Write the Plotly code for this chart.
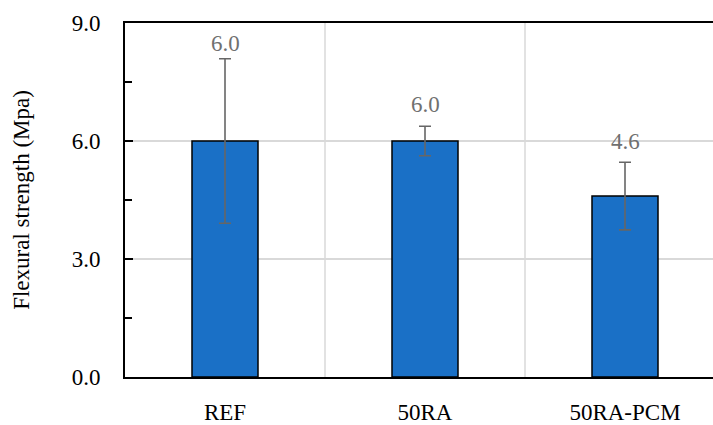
import plotly.graph_objects as go

categories = ["REF", "50RA", "50RA-PCM"]
strength = [6.0, 6.0, 4.6]
std_dev = [2.09, 0.375, 0.86]
y_tickvals = [0, 3, 6, 9]
y_ticktext = ["0.0", "3.0", "6.0", "9.0"]

FONT = "Liberation Serif"
BAR_COLOR = "#1a70c6"

fig = go.Figure()
fig.add_trace(go.Bar(
    x=categories, y=strength, width=0.33,
    marker=dict(color=BAR_COLOR, line=dict(color="black", width=1.5)),
    error_y=dict(type="data", array=std_dev, visible=True, color="#666666",
                 thickness=1.6, width=6),
    showlegend=False,
))

label_shift = [1, 7, 6]
for i, (c, v, e) in enumerate(zip(categories, strength, std_dev)):
    fig.add_annotation(x=c, y=v + e, text=f"{v:.1f}", showarrow=False,
                       yanchor="bottom", yshift=label_shift[i],
                       font=dict(family=FONT, size=23, color="#707070"))

# vertical gridlines between categories
for xb in [0.5, 1.5]:
    fig.add_shape(type="line", xref="x", yref="paper", x0=xb, x1=xb, y0=0, y1=1,
                  line=dict(color="#d9d9d9", width=1.5), layer="below")

fig.update_layout(
    width=713, height=425,
    margin=dict(l=125, r=0, t=23, b=43),
    paper_bgcolor="white", plot_bgcolor="white",
    font=dict(family=FONT, size=23, color="black"),
)
fig.update_xaxes(
    range=[-0.5, 2.44], showline=True, linecolor="black", linewidth=1.8,
    mirror=True, ticks="", showgrid=False, ticklabelstandoff=13,
    tickfont=dict(family=FONT, size=23, color="black"),
)
fig.update_yaxes(
    range=[0, 9], tickvals=y_tickvals, ticktext=y_ticktext,
    showline=True, linecolor="black", linewidth=1.8,
    ticks="inside", ticklen=8, tickwidth=1.5, tickcolor="black",
    showgrid=True, gridcolor="#d9d9d9", gridwidth=1.5,
    minor=dict(dtick=1.5, tick0=0, ticks="inside", ticklen=7, tickwidth=1.5,
               tickcolor="black", showgrid=False),
    ticklabelstandoff=18,
    tickfont=dict(family=FONT, size=23, color="black"),
    title=dict(text="Flexural strength (Mpa)", standoff=36,
               font=dict(family=FONT, size=23, color="black")),
    zeroline=False,
)

fig.write_html("out.html", config={"displayModeBar": False},
               post_script="document.body.style.margin='0';document.body.style.overflow='hidden';")
